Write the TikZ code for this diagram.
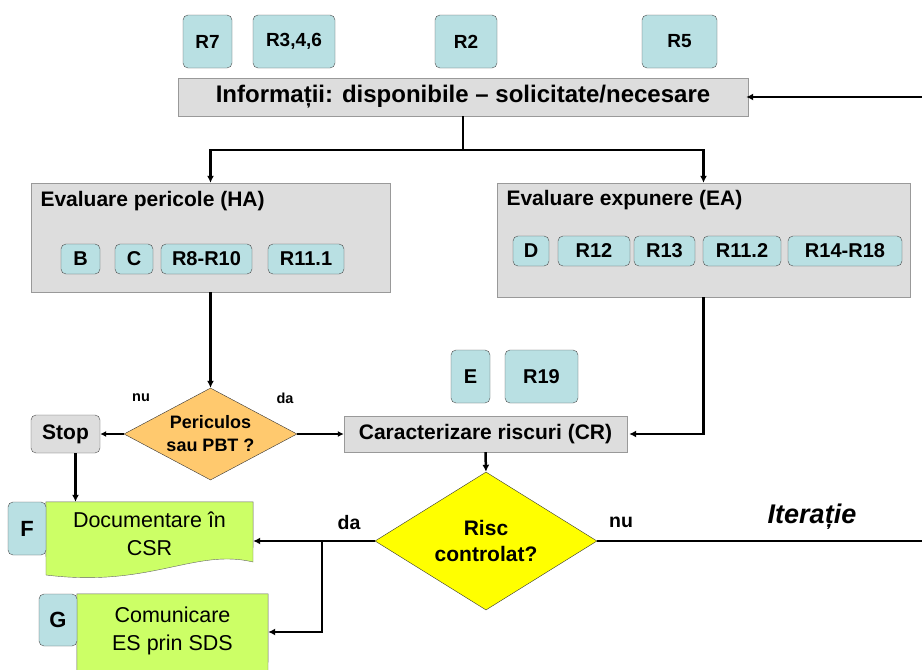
\documentclass[tikz,border=0pt]{standalone}
\usepackage{fontspec}
\setmainfont{Liberation Sans}
\usetikzlibrary{arrows.meta, positioning, shapes.geometric}
\definecolor{refcyan}{HTML}{B9E0E3}
\definecolor{boxgray}{HTML}{DDDDDD}
\definecolor{pbtorange}{HTML}{FFC96E}
\definecolor{riscyellow}{HTML}{FFFF00}
\definecolor{docgreen}{HTML}{CCFF66}
\newcommand{\fsz}[1]{\fontsize{#1}{#1}\selectfont}

\begin{document}
\begin{tikzpicture}[x=1pt, y=-1pt,
    ref/.style={draw=black!70, fill=refcyan, rounded corners=5pt, inner sep=0pt,
                font=\bfseries\fsz{20}},
    graybox/.style={draw=black!40, fill=boxgray, inner sep=0pt, font=\bfseries\fsz{21}},
    doc/.style={inner sep=0pt, align=center, font=\fsz{21.5}},
    docpaper/.style={draw=black!60, fill=docgreen},
    decision/.style={diamond, draw=black!80, inner sep=0pt, align=center,
                     font=\bfseries\fsz{21}},
    lbl/.style={font=\bfseries\fsz{21}},
    line/.style={line width=2.5pt},
    arr/.style={-{Latex[length=7pt,width=7pt]}, line width=2.5pt},
    thinarr/.style={-{Latex[length=6pt,width=6pt]}, line width=1.2pt}
  ]
    \clip (0,0) rectangle (922,670);

    % Information block
    \node[ref, minimum width=49, minimum height=53, font=\bfseries\fsz{19}] (r7) at (207.5,41.5) {R7};
    \node[ref, minimum width=82, minimum height=53, font=\bfseries\fsz{19}] (r346) at (294,41.5) {R3,4,6};
    \node[ref, minimum width=62, minimum height=53, font=\bfseries\fsz{19}] (r2) at (466,41.5) {R2};
    \node[ref, minimum width=75, minimum height=53, font=\bfseries\fsz{19}] (r5) at (679.5,41.5) {R5};
    \node[graybox, minimum width=570, minimum height=38, font=\bfseries\fsz{24}] (info)
      at (463,97) {Informații: disponibile -- solicitate/necesare};

    % Hazard and exposure assessment
    \node[graybox, minimum width=359, minimum height=109] (ha) at (210.5,237.5) {};
    \node[lbl, anchor=west] (hatitle) at (37,201) {Evaluare pericole (HA)};
    \node[ref, minimum width=39, minimum height=30] (b) at (80.5,259) {B};
    \node[ref, minimum width=38, minimum height=30] (c) at (134,259) {C};
    \node[ref, minimum width=91, minimum height=30] (r810) at (206.5,259) {R8-R10};
    \node[ref, minimum width=76, minimum height=30] (r111) at (306,259) {R11.1};

    \node[graybox, minimum width=413, minimum height=114] (ea) at (703.5,240) {};
    \node[lbl, anchor=west] (eatitle) at (503,200) {Evaluare expunere (EA)};
    \node[ref, minimum width=36, minimum height=30] (d) at (531,251) {D};
    \node[ref, minimum width=72, minimum height=30] (r12) at (594,251) {R12};
    \node[ref, minimum width=61, minimum height=30] (r13) at (664.5,251) {R13};
    \node[ref, minimum width=78, minimum height=30] (r112) at (742,251) {R11.2};
    \node[ref, minimum width=114, minimum height=30] (r1418) at (845,251) {R14-R18};

    % Risk characterisation
    \node[decision, fill=pbtorange, aspect=2, minimum width=173, minimum height=92,
          font=\bfseries\fsz{18}] (pbt) at (210.5,434) {Periculos\\[5pt]sau PBT ?};
    \node[graybox, draw=black!70, rounded corners=5pt, minimum width=69, minimum height=38]
      (stop) at (65.5,434) {Stop};
    \node[graybox, minimum width=283, minimum height=36] (cr) at (485.5,434)
      {Caracterizare riscuri (CR)};
    \node[ref, minimum width=39, minimum height=53] (e) at (470.5,376.5) {E};
    \node[ref, minimum width=73, minimum height=53] (r19) at (541.5,376.5) {R19};
    \node[decision, fill=riscyellow, aspect=1.6, minimum width=222, minimum height=138]
      (risc) at (486,541) {Risc\\[5pt]controlat?};

    % Documents
    \node[doc, minimum width=207, minimum height=60] (docf) at (149.5,532) {};
    \fill[docpaper] (docf.north west) -- (docf.north east) -- (253,562)
      .. controls (195,548) and (150,588) .. (46,575) -- cycle;
    \node[doc] (docftext) at (149.5,534) {Documentare în\\[6pt]CSR};
    \node[ref, minimum width=38, minimum height=53, font=\bfseries\fsz{22}] (f) at (27,528.5) {F};

    \node[doc, minimum width=191, minimum height=76] (docg) at (172.5,632) {};
    \fill[docpaper] (docg.north west) -- (docg.north east) -- (268,684)
      .. controls (215,670) and (170,710) .. (77,697) -- cycle;
    \node[doc] (docgtext) at (172.5,631) {Comunicare\\[6pt]ES prin SDS};
    \node[ref, minimum width=38, minimum height=52, font=\bfseries\fsz{22}] (g) at (58,620) {G};

    % Free ends at the border
    \coordinate (infoin) at (922,97);
    \coordinate (iterend) at (922,541);
    \coordinate (split) at (463,150);
    \coordinate (branch) at (322,541);

    % Connectors
    \draw[arr] (infoin) -- ([xshift=-2pt]info.east);
    \draw[line] (info.south) -- (split);
    \draw[arr] (split) -| (ha.north);
    \draw[arr] (split) -| (ea.north);
    \draw[arr] (ha.south) -- (pbt.north);
    \draw[thinarr] (pbt.west) -- (stop.east);
    \draw[thinarr] (pbt.east) -- (cr.west);
    \draw[arr] (ea.south) |- ([xshift=2pt]cr.east);
    \draw[arr] (cr.south) -- (risc.north);
    \draw[line] (risc.east) -- (iterend);
    \draw[arr] (risc.west) -- (risc.west -| docf.east);
    \draw[arr] (branch) |- (docg.east);
    \draw[arr] ([xshift=10pt]stop.south) -- ([xshift=10pt]stop.south |- docf.north);

    % Branch labels
    \node[font=\bfseries\fsz{14.5}] (nupbt) at (141,398) {nu};
    \node[font=\bfseries\fsz{14.5}] (dapbt) at (285,398) {da};
    \node[font=\bfseries\fsz{19.5}] (darisc) at (349,523) {da};
    \node[font=\bfseries\fsz{19.5}] (nurisc) at (621,522) {nu};
    \node[font=\bfseries\itshape\fsz{27}] (iter) at (812,517) {Iterație};
  \end{tikzpicture}
\end{document}
